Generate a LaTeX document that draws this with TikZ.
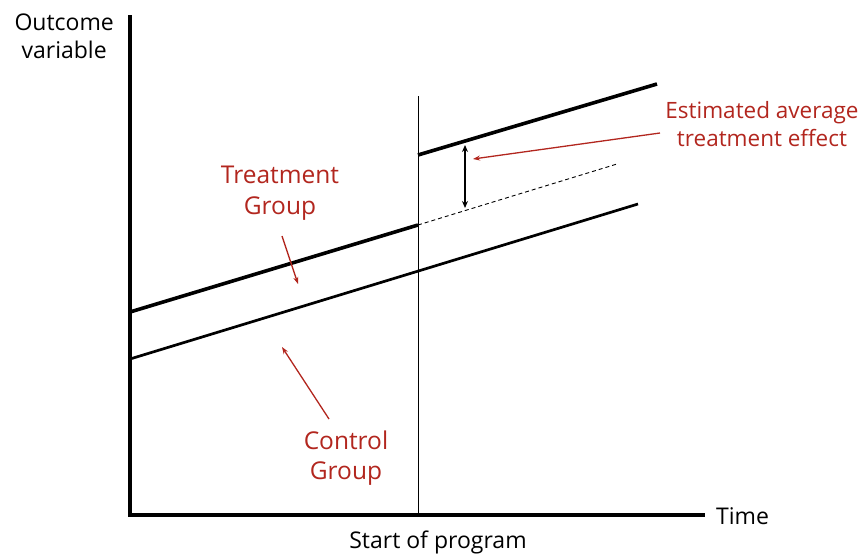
\documentclass[tikz,border=0pt]{standalone}
\usepackage{fontspec}
\usetikzlibrary{arrows.meta}
\setmainfont{Open Sans}
\definecolor{labelred}{RGB}{178,38,30}
\tikzset{
  lbl/.style={font=\fontsize{23}{28}\selectfont, align=center, inner sep=0pt},
  redlbl/.style={lbl, text=labelred},
  grouplbl/.style={redlbl, font=\fontsize{24.5}{31}\selectfont},
  redarrow/.style={-{Stealth[length=7pt,width=5pt]}, labelred, line width=1.3pt},
}
\begin{document}
\begin{tikzpicture}[x=1pt,y=-1pt]

        \useasboundingbox (0,0) rectangle (862,557);

        % axes
        \coordinate (origin) at (130,515);
        \coordinate (ytop) at (130,15);
        \coordinate (xend) at (705,515);
        \draw[line width=3.3pt] (ytop) -- (origin) -- (xend);
        \node[lbl, anchor=east] (ylabel) at (114,36) {Outcome\\variable};
        \node[lbl, anchor=west] (xlabel) at (716,516) {Time};

        % start of program
        \coordinate (start top) at (418,96);
        \coordinate (start bot) at (418,515);
        \draw[line width=0.9pt] (start top) -- (start bot);
        \node[lbl] (startlabel) at (438,542) {Start of program};

        % treatment group
        \coordinate (treat a) at (130,312);
        \coordinate (treat b) at (418,225);
        \coordinate (treat c) at (418,155);
        \coordinate (treat d) at (657,84);
        \coordinate (counter) at (617,164);
        \draw[line width=3.6pt] (treat a) -- (treat b);
        \draw[line width=3.6pt] (treat c) -- (treat d);
        \draw[dashed, line width=0.9pt, dash pattern=on 4pt off 3pt] (treat b) -- (counter);

        % control group
        \coordinate (ctrl a) at (130,359);
        \coordinate (ctrl b) at (638,204);
        \draw[line width=2.7pt] (ctrl a) -- (ctrl b);

        % effect
        \coordinate (eff top) at (465,145);
        \coordinate (eff bot) at (465,208);
        \draw[{Stealth[length=7pt,width=6pt]}-{Stealth[length=7pt,width=6pt]}, line width=1.8pt] (eff top) -- (eff bot);

        % labels
        \node[redlbl, font=\fontsize{22.5}{28}\selectfont] (efflabel) at (762,124) {Estimated average\\treatment effect};
        \coordinate (eff tail) at (660,133);
        \coordinate (eff tip) at (473,159);
        \draw[redarrow] (eff tail) -- (eff tip);

        \node[grouplbl] (treatlabel) at (280,193) {Treatment\\Group};
        \coordinate (treat tail) at (282,236);
        \coordinate (treat tip) at (298,284);
        \draw[redarrow] (treat tail) -- (treat tip);

        \node[grouplbl, font=\fontsize{24.5}{30}\selectfont] (ctrllabel) at (346,458) {Control\\Group};
        \coordinate (ctrl tail) at (329,419);
        \coordinate (ctrl tip) at (282,347);
        \draw[redarrow] (ctrl tail) -- (ctrl tip);

\end{tikzpicture}
\end{document}
